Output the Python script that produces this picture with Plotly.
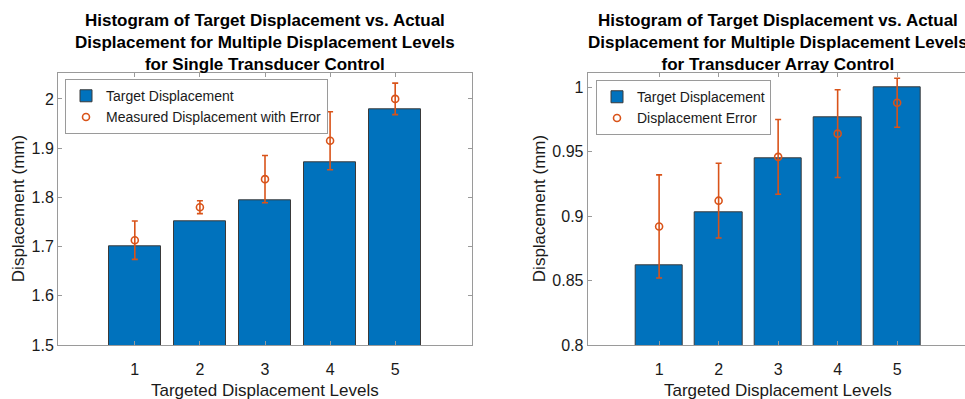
import plotly.graph_objects as go

# ---------------- data ----------------
levels = [1, 2, 3, 4, 5]

single_target = [1.700, 1.752, 1.795, 1.872, 1.978]
single_measured = [1.713, 1.780, 1.837, 1.915, 2.000]
single_error = [0.039, 0.013, 0.048, 0.059, 0.032]

array_target = [0.862, 0.903, 0.945, 0.977, 1.000]
array_measured = [0.892, 0.912, 0.946, 0.964, 0.988]
array_error = [0.040, 0.029, 0.029, 0.034, 0.019]

left_yticks = [1.5, 1.6, 1.7, 1.8, 1.9, 2.0]
left_yticklabels = ["1.5", "1.6", "1.7", "1.8", "1.9", "2"]
right_yticks = [0.8, 0.85, 0.9, 0.95, 1.0]
right_yticklabels = ["0.8", "0.85", "0.9", "0.95", "1"]

title_left = ("Histogram of Target Displacement vs. Actual<br>"
              "Displacement for Multiple Displacement Levels<br>"
              "for Single Transducer Control")
title_right = ("Histogram of Target Displacement vs. Actual<br>"
               "Displacement for Multiple Displacement Levels<br>"
               "for Transducer Array Control")
xlabel = "Targeted Displacement Levels"
ylabel = "Displacement (mm)"

# ---------------- styling ----------------
W, H = 965, 399
BLUE = "#0072BD"
ORANGE = "#D95319"
AXIS = "#9a9a9a"
TEXT = "#1a1a1a"
FONT = "Liberation Sans, Arial, sans-serif"


def px_x(p):
    return p / W


def px_y(p):
    return (H - p) / H


fig = go.Figure()

# left panel
fig.add_trace(go.Bar(
    x=levels, y=single_target, width=0.8, name="Target Displacement",
    marker=dict(color=BLUE, line=dict(color="#3a3a3a", width=1)),
    xaxis="x", yaxis="y", legend="legend"))
fig.add_trace(go.Scatter(
    x=levels, y=single_measured, mode="markers",
    name="Measured Displacement with Error",
    marker=dict(symbol="circle-open", size=7, color=ORANGE,
                line=dict(width=1.6, color=ORANGE)),
    error_y=dict(type="data", array=single_error, visible=True,
                 color=ORANGE, thickness=1.6, width=3),
    xaxis="x", yaxis="y", legend="legend"))

# right panel
fig.add_trace(go.Bar(
    x=levels, y=array_target, width=0.8, name="Target Displacement",
    marker=dict(color=BLUE, line=dict(color="#3a3a3a", width=1)),
    xaxis="x2", yaxis="y2", legend="legend2"))
fig.add_trace(go.Scatter(
    x=levels, y=array_measured, mode="markers",
    name="Displacement Error",
    marker=dict(symbol="circle-open", size=7, color=ORANGE,
                line=dict(width=1.6, color=ORANGE)),
    error_y=dict(type="data", array=array_error, visible=True,
                 color=ORANGE, thickness=1.6, width=3),
    xaxis="x2", yaxis="y2", legend="legend2"))

ydom = [px_y(353), px_y(75)]

common_axis = dict(showline=True, linecolor=AXIS, linewidth=1,
                   ticks="inside", ticklen=4, tickcolor=AXIS, tickwidth=1,
                   showgrid=False, zeroline=False,
                   tickfont=dict(family=FONT, size=16, color=TEXT))

fig.update_layout(
    width=W, height=H,
    margin=dict(l=0, r=0, t=0, b=0),
    paper_bgcolor="white", plot_bgcolor="white",
    showlegend=True,
    font=dict(family=FONT, color=TEXT),
    xaxis=dict(domain=[px_x(58), px_x(472)], range=[-0.18, 6.18],
               tickvals=levels, mirror="ticks", anchor="y",
               ticklabelstandoff=10, **common_axis),
    yaxis=dict(domain=ydom, range=[1.5, 2.052], tickvals=left_yticks,
               ticktext=left_yticklabels, mirror="ticks", anchor="x",
               **common_axis),
    xaxis2=dict(domain=[px_x(587.7), 1.0], range=[-0.2, 6.14],
                tickvals=levels, mirror="ticks", anchor="y2",
                ticklabelstandoff=10, **common_axis),
    yaxis2=dict(domain=ydom, range=[0.8, 1.0108], tickvals=right_yticks,
                ticktext=right_yticklabels, mirror=False, anchor="x2",
                **common_axis),
    legend=dict(x=px_x(65), y=px_y(81), xanchor="left", yanchor="top",
                bgcolor="white", bordercolor=AXIS, borderwidth=1,
                font=dict(family=FONT, size=14, color=TEXT),
                itemwidth=30, tracegroupgap=0),
    legend2=dict(x=px_x(596), y=px_y(82), xanchor="left", yanchor="top",
                 bgcolor="white", bordercolor=AXIS, borderwidth=1,
                 font=dict(family=FONT, size=14, color=TEXT),
                 itemwidth=30, tracegroupgap=0),
    bargap=0,
)

annotations = [
    dict(text=title_left, x=px_x(265), y=px_y(9), xref="paper", yref="paper",
         xanchor="center", yanchor="top", showarrow=False,
         font=dict(family=FONT, size=17, color="black", weight="bold")),
    dict(text=title_right, x=px_x(778), y=px_y(9), xref="paper", yref="paper",
         xanchor="center", yanchor="top", showarrow=False,
         font=dict(family=FONT, size=17, color="black", weight="bold")),
    dict(text=xlabel, x=px_x(265), y=px_y(399), xref="paper", yref="paper",
         xanchor="center", yanchor="middle", showarrow=False,
         font=dict(family=FONT, size=17, color=TEXT)),
    dict(text=xlabel, x=px_x(778), y=px_y(399), xref="paper", yref="paper",
         xanchor="center", yanchor="middle", showarrow=False,
         font=dict(family=FONT, size=17, color=TEXT)),
    dict(text=ylabel, x=px_x(18), y=px_y(214), xref="paper", yref="paper",
         xanchor="center", yanchor="middle", showarrow=False, textangle=-90,
         font=dict(family=FONT, size=17, color=TEXT)),
    dict(text=ylabel, x=px_x(539), y=px_y(214), xref="paper", yref="paper",
         xanchor="center", yanchor="middle", showarrow=False, textangle=-90,
         font=dict(family=FONT, size=17, color=TEXT)),
]
fig.update_layout(annotations=annotations)

fig.write_html("out.html")
